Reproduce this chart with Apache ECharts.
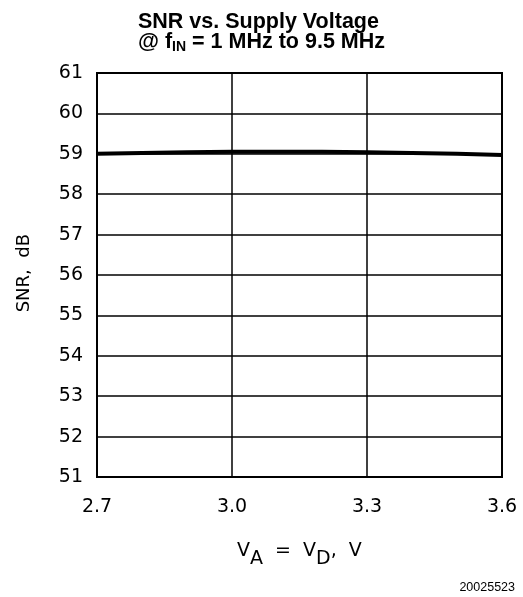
<!DOCTYPE html>
<html><head><meta charset="utf-8">
<script src="https://cdn.jsdelivr.net/npm/echarts@6/dist/echarts.min.js"></script>
<style>html,body{margin:0;padding:0;background:#fff}#c{width:523px;height:597px}</style>
</head><body><div id="c"></div>
<script>
const voltages = [2.7, 2.8, 2.9, 3.0, 3.1, 3.2, 3.3, 3.4, 3.5, 3.6];
const snr = [59.0, 59.02, 59.04, 59.05, 59.05, 59.05, 59.04, 59.02, 59.0, 58.97];
const xTicks = [2.7, 3.0, 3.3, 3.6];
const yTicks = [51, 52, 53, 54, 55, 56, 57, 58, 59, 60, 61];

const chart = echarts.init(document.getElementById('c'));
const tickFont = {color:'#000', fontFamily:'DejaVu Sans', fontSize:19};
chart.setOption({
  animation:false,
  graphic:[
    {type:'text', left:'center', top:11, style:{
      text:'{a|SNR vs. Supply Voltage}\n{a|@ f}{s|IN}{a| = 1 MHz to 9.5 MHz}',
      rich:{
        a:{fontFamily:'Liberation Sans', fontWeight:'bold', fontSize:21.5, fill:'#000', lineHeight:20, verticalAlign:'top'},
        s:{fontFamily:'Liberation Sans', fontWeight:'bold', fontSize:14, fill:'#000', lineHeight:20, verticalAlign:'top', padding:[9,0,0,0]}
      }}},
    {type:'text', left:15, top:234, rotation:Math.PI/2, style:{text:'SNR,  dB', fontFamily:'DejaVu Sans', fontSize:18, fill:'#000'}},
    {type:'text', left:237, top:542, style:{
      text:'{a|V}{s|A}{a|  =  V}{s|D}{a|,  V}',
      rich:{
        a:{fontFamily:'DejaVu Sans', fontSize:19, fill:'#000', lineHeight:22, verticalAlign:'top'},
        s:{fontFamily:'DejaVu Sans', fontSize:19, fill:'#000', lineHeight:22, verticalAlign:'top', padding:[8,0,0,0]}
      }}},
    {type:'text', right:8, top:581, style:{text:'20025523', fontFamily:'Liberation Sans', fontSize:12.5, fill:'#000'}}
  ],
  grid:{left:97, right:21, top:73, bottom:120, show:true, borderColor:'#000', borderWidth:2},
  xAxis:{
    type:'value', min:xTicks[0], max:xTicks[xTicks.length-1], interval:0.3,
    axisLine:{show:false}, axisTick:{show:false},
    splitLine:{show:true, lineStyle:{color:'#000', width:1.5}},
    axisLabel:{...tickFont, margin:21, formatter:v=>v.toFixed(1)}
  },
  yAxis:{
    type:'value', min:yTicks[0], max:yTicks[yTicks.length-1], interval:1,
    axisLine:{show:false}, axisTick:{show:false},
    splitLine:{show:true, lineStyle:{color:'#000', width:1.5}},
    axisLabel:{...tickFont, margin:14}
  },
  series:[{
    type:'line', data:voltages.map((v,i)=>[v, snr[i]]), showSymbol:false,
    lineStyle:{color:'#000', width:4}, smooth:false
  }]
});
</script></body></html>
